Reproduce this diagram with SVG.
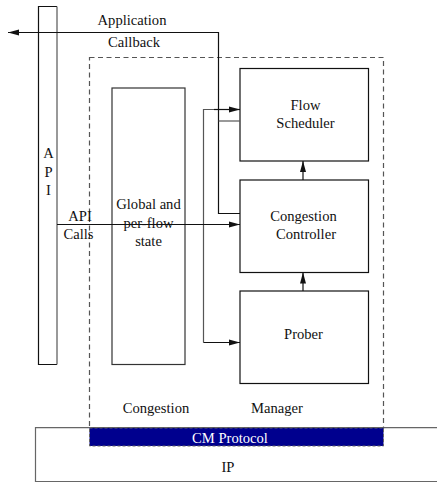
<svg xmlns="http://www.w3.org/2000/svg" width="437" height="483" viewBox="0 0 437 483">
  <style>
    .box { fill: #fff; stroke: #111; stroke-width: 1.2; }
    .grey { fill: none; stroke: #555; stroke-width: 1.2; }
    .dash { fill: none; stroke: #555; stroke-width: 1.2; stroke-dasharray: 5 3.5; }
    .wire { fill: none; stroke: #111; stroke-width: 1.2; }
    text { font-family: "Liberation Serif", "Times New Roman", serif; font-size: 14.6px; fill: #111; text-anchor: middle; }
    .inv { fill: #fff; }
  </style>
  <defs>
    <marker id="arrow" markerUnits="userSpaceOnUse" markerWidth="12" markerHeight="8" refX="11" refY="4" orient="auto">
      <path d="M0,1 L11,4 L0,7 Z" fill="#111"/>
    </marker>
  </defs>

  <!-- IP layer and CM protocol strip -->
  <g id="ip">
    <path d="M445,427.7 H35.5 V481.5 H445" fill="#fff" stroke="#666" stroke-width="1.2"/>
    <text x="228" y="472">IP</text>
  </g>

  <!-- Congestion Manager boundary -->
  <g id="cm">
    <rect class="dash" x="89.5" y="57.5" width="294" height="370.5"/>
    <text x="156" y="412.5">Congestion</text>
    <text x="277" y="412.5">Manager</text>
  </g>

  <g id="cm-protocol">
    <rect x="89.5" y="428" width="294" height="18" fill="#00008e" stroke="#666" stroke-width="1" stroke-dasharray="3 2"/>
    <text class="inv" x="230" y="442.5">CM Protocol</text>
  </g>

  <!-- API bar -->
  <g id="api">
    <path d="M57,6.5 H38.5 V364.5 H57" class="wire"/>
    <path d="M57,6.5 V364.5" class="grey"/>
    <text x="48.5" y="158">A</text>
    <text x="48.5" y="177">P</text>
    <text x="48.5" y="194.5">I</text>
  </g>

  <g id="state">
    <rect x="112" y="88" width="73" height="276.5" fill="#fff" stroke="#333" stroke-width="1.2"/>
    <text x="148.5" y="209">Global and</text>
    <text x="148.5" y="227.5">per-flow</text>
    <text x="148.5" y="246">state</text>
  </g>

  <g id="flow-scheduler">
    <rect class="box" x="240" y="68.5" width="128.5" height="92.5"/>
    <text x="305.5" y="109.5">Flow</text>
    <text x="305.5" y="127.5">Scheduler</text>
  </g>

  <g id="congestion-controller">
    <rect class="box" x="240" y="180" width="128.5" height="92.5"/>
    <text x="303.5" y="220.5">Congestion</text>
    <text x="306" y="238.5">Controller</text>
  </g>

  <g id="prober">
    <rect class="box" x="240" y="291" width="128.5" height="92.5"/>
    <text x="303.5" y="338.5">Prober</text>
  </g>

  <!-- connectors -->
  <g id="connectors">
    <!-- application callback -->
    <path class="wire" d="M240,213.5 H218.5 V32.5 H8" marker-end="url(#arrow)"/>
    <path class="grey" d="M218.5,121 H240"/>
    <text x="132" y="25">Application</text>
    <text x="134" y="47">Callback</text>

    <!-- state feeds into scheduler and prober -->
    <path class="grey" d="M203.5,342.5 V109.5 H214"/>
    <path class="wire" d="M214,109.5 H240" marker-end="url(#arrow)"/>
    <path class="wire" d="M203.5,342.5 H240" marker-end="url(#arrow)"/>

    <!-- API calls -->
    <path class="wire" d="M57,224.5 H240" marker-end="url(#arrow)"/>
    <text x="80" y="221">API</text>
    <text x="78.5" y="238.5">Calls</text>

    <!-- prober -> controller -> scheduler -->
    <path class="wire" d="M303,291 V272.5" marker-end="url(#arrow)"/>
    <path class="wire" d="M303,180 V161" marker-end="url(#arrow)"/>
  </g>
</svg>
